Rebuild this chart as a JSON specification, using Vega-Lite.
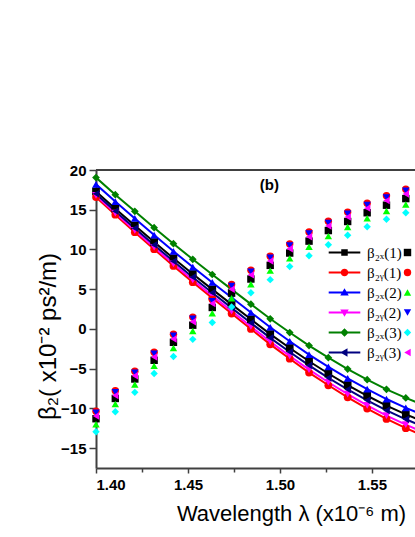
{
  "$schema": "https://vega.github.io/schema/vega-lite/v6.json",
  "width": 319,
  "height": 298,
  "autosize": {"type": "none"},
  "padding": {"left": 96, "top": 170, "right": 0, "bottom": 69},
  "config": {
    "view": {"stroke": null},
    "font": "Liberation Sans",
    "axis": {
      "grid": false,
      "domainColor": "#404040",
      "domainWidth": 2,
      "tickColor": "#404040",
      "tickWidth": 1.5,
      "labelFont": "Liberation Sans",
      "labelFontWeight": "bold",
      "labelFontSize": 15,
      "labelColor": "#000000",
      "labelOverlap": false,
      "titleFont": "Liberation Sans",
      "titleFontWeight": "normal",
      "titleFontSize": 22,
      "titleColor": "#000000"
    }
  },
  "datasets": {
    "curves": [
      {"lam": 1.4, "x3": 19.05, "x2": 18.2, "x1": 17.3, "y3": 17.0, "y2": 16.8, "y1": 16.6},
      {"lam": 1.4105, "x3": 16.9, "x2": 16.03, "x1": 15.13, "y3": 14.81, "y2": 14.58, "y1": 14.37},
      {"lam": 1.4211, "x3": 14.8, "x2": 13.9, "x1": 13.01, "y3": 12.67, "y2": 12.41, "y1": 12.18},
      {"lam": 1.4316, "x3": 12.74, "x2": 11.81, "x1": 10.93, "y3": 10.57, "y2": 10.28, "y1": 10.04},
      {"lam": 1.4421, "x3": 10.72, "x2": 9.77, "x1": 8.89, "y3": 8.51, "y2": 8.19, "y1": 7.93},
      {"lam": 1.4526, "x3": 8.76, "x2": 7.79, "x1": 6.91, "y3": 6.51, "y2": 6.16, "y1": 5.89},
      {"lam": 1.4632, "x3": 6.85, "x2": 5.85, "x1": 4.98, "y3": 4.56, "y2": 4.18, "y1": 3.89},
      {"lam": 1.4737, "x3": 4.98, "x2": 3.96, "x1": 3.09, "y3": 2.65, "y2": 2.24, "y1": 1.94},
      {"lam": 1.4842, "x3": 3.12, "x2": 2.07, "x1": 1.21, "y3": 0.75, "y2": 0.31, "y1": 0.0},
      {"lam": 1.4947, "x3": 1.28, "x2": 0.21, "x1": -0.65, "y3": -1.13, "y2": -1.6, "y1": -1.94},
      {"lam": 1.5053, "x3": -0.45, "x2": -1.55, "x1": -2.4, "y3": -2.9, "y2": -3.4, "y1": -3.75},
      {"lam": 1.5158, "x3": -2.1, "x2": -3.23, "x1": -4.07, "y3": -4.59, "y2": -5.12, "y1": -5.49},
      {"lam": 1.5263, "x3": -3.62, "x2": -4.77, "x1": -5.61, "y3": -6.15, "y2": -6.71, "y1": -7.09},
      {"lam": 1.5368, "x3": -5.05, "x2": -6.23, "x1": -7.06, "y3": -7.62, "y2": -8.21, "y1": -8.61},
      {"lam": 1.5474, "x3": -6.38, "x2": -7.58, "x1": -8.41, "y3": -8.99, "y2": -9.61, "y1": -10.02},
      {"lam": 1.5579, "x3": -7.6, "x2": -8.82, "x1": -9.65, "y3": -10.25, "y2": -10.9, "y1": -11.33},
      {"lam": 1.5684, "x3": -8.68, "x2": -9.93, "x1": -10.75, "y3": -11.37, "y2": -12.05, "y1": -12.49},
      {"lam": 1.5789, "x3": -9.65, "x2": -10.93, "x1": -11.74, "y3": -12.38, "y2": -13.09, "y1": -13.55}
    ],
    "points": [
      {"lam": 1.4, "x1": -11.3, "y1": -10.35, "x2": -12.0, "y2": -10.55, "x3": -12.93, "y3": -10.95},
      {"lam": 1.4105, "x1": -8.75, "y1": -7.77, "x2": -9.45, "y2": -7.97, "x3": -10.43, "y3": -8.37},
      {"lam": 1.4211, "x1": -6.3, "y1": -5.31, "x2": -7.0, "y2": -5.5, "x3": -7.98, "y3": -5.9},
      {"lam": 1.4316, "x1": -3.95, "y1": -2.94, "x2": -4.65, "y2": -3.13, "x3": -5.61, "y3": -3.53},
      {"lam": 1.4421, "x1": -1.68, "y1": -0.66, "x2": -2.4, "y2": -0.85, "x3": -3.46, "y3": -1.26},
      {"lam": 1.4526, "x1": 0.47, "y1": 1.49, "x2": -0.25, "y2": 1.3, "x3": -1.31, "y3": 0.9},
      {"lam": 1.4632, "x1": 2.7, "y1": 3.7, "x2": 1.97, "y2": 3.5, "x3": 0.8, "y3": 3.2},
      {"lam": 1.4737, "x1": 4.5, "y1": 5.6, "x2": 3.86, "y2": 5.4, "x3": 2.75, "y3": 5.0},
      {"lam": 1.4842, "x1": 6.28, "y1": 7.4, "x2": 5.62, "y2": 7.2, "x3": 4.55, "y3": 6.8},
      {"lam": 1.4947, "x1": 8.0, "y1": 9.15, "x2": 7.34, "y2": 8.95, "x3": 6.2, "y3": 8.55},
      {"lam": 1.5053, "x1": 9.55, "y1": 10.7, "x2": 8.88, "y2": 10.5, "x3": 7.85, "y3": 10.1},
      {"lam": 1.5158, "x1": 11.05, "y1": 12.2, "x2": 10.35, "y2": 12.0, "x3": 9.2, "y3": 11.6},
      {"lam": 1.5263, "x1": 12.38, "y1": 13.55, "x2": 11.68, "y2": 13.35, "x3": 10.6, "y3": 12.95},
      {"lam": 1.5368, "x1": 13.52, "y1": 14.7, "x2": 12.82, "y2": 14.5, "x3": 11.78, "y3": 14.1},
      {"lam": 1.5474, "x1": 14.62, "y1": 15.82, "x2": 13.92, "y2": 15.6, "x3": 12.85, "y3": 15.2},
      {"lam": 1.5579, "x1": 15.57, "y1": 16.77, "x2": 14.85, "y2": 16.55, "x3": 13.8, "y3": 16.15},
      {"lam": 1.5684, "x1": 16.4, "y1": 17.59, "x2": 15.65, "y2": 17.38, "x3": 14.62, "y3": 16.97}
    ]
  },
  "layer": [
    {
      "data": {"name": "curves"},
      "transform": [{"fold": ["x1", "y1", "x2", "y2", "x3", "y3"], "as": ["series", "beta"]}],
      "mark": {"type": "line", "strokeWidth": 2, "clip": true},
      "encoding": {
        "x": {
          "field": "lam", "type": "quantitative",
          "scale": {"domain": [1.4, 1.5734], "nice": false, "zero": false},
          "axis": {
            "values": [1.4, 1.425, 1.45, 1.475, 1.5, 1.525, 1.55],
            "labelExpr": "round(datum.value*40) % 2 == 0 ? format(datum.value, '.2f') : ''",
            "tickSize": {"expr": "(round(datum.value*40) % 2 == 0 ? 5 : 4)"},
            "labelPadding": 4,
            "title": "Wavelength λ (x10⁻⁶ m)",
            "titleX": 195,
            "titleY": 52,
            "titleBaseline": "alphabetic",
            "titleAlign": "center"
          }
        },
        "y": {
          "field": "beta", "type": "quantitative",
          "scale": {"domain": [-17.5, 20], "nice": false, "zero": false},
          "axis": {
            "values": [-15, -10, -5, 0, 5, 10, 15, 20],
            "format": "d",
            "tickSize": 7,
            "labelPadding": 3,
            "title": "β₂( x10⁻² ps²/m)",
            "titleFontSize": 24,
            "titleX": -41,
            "titleY": 166,
            "titleAngle": -90,
            "titleBaseline": "alphabetic",
            "titleAlign": "center"
          }
        },
        "color": {
          "field": "series", "type": "nominal",
          "scale": {"domain": ["x1", "y1", "x2", "y2", "x3", "y3"], "range": ["#000000", "#FF0000", "#0000FF", "#FF00FF", "#008000", "#000080"]},
          "legend": null
        },
        "detail": {"field": "series"}
      }
    },
    {
      "data": {"name": "curves"},
      "transform": [{"fold": ["x1", "y1", "x2", "y2", "x3", "y3"], "as": ["series", "beta"]}],
      "mark": {"type": "point", "filled": true, "opacity": 1, "size": 60, "strokeWidth": 0},
      "encoding": {
        "x": {"field": "lam", "type": "quantitative"},
        "y": {"field": "beta", "type": "quantitative"},
        "color": {
          "field": "series", "type": "nominal",
          "scale": {"domain": ["x1", "y1", "x2", "y2", "x3", "y3"], "range": ["#000000", "#FF0000", "#0000FF", "#FF00FF", "#008000", "#000080"]},
          "legend": null
        },
        "shape": {
          "field": "series", "type": "nominal",
          "scale": {"domain": ["x1", "y1", "x2", "y2", "x3", "y3"], "range": ["square", "circle", "triangle-up", "triangle-down", "diamond", "triangle-left"]},
          "legend": null
        }
      }
    },
    {
      "data": {"values": []},
      "mark": {"type": "point", "filled": true, "opacity": 1},
      "encoding": {
        "color": {
          "field": "series", "type": "nominal",
          "scale": {"domain": ["x1", "y1", "x2", "y2", "x3", "y3"], "range": ["#000000", "#FF0000", "#0000FF", "#FF00FF", "#008000", "#000080"]},
          "legend": {
            "orient": "none", "legendX": 241, "legendY": 75, "title": null, "padding": 0,
            "symbolSize": 100, "symbolStrokeWidth": 0, "symbolOpacity": 1,
            "labelFont": "Liberation Serif", "labelFontSize": 15, "labelColor": "#000000", "labelOffset": 15,
            "rowPadding": 4,
            "labelExpr": "{'x1': 'β₂ₓ(1)', 'y1': 'β₂ᵧ(1)', 'x2': 'β₂ₓ(2)', 'y2': 'β₂ᵧ(2)', 'x3': 'β₂ₓ(3)', 'y3': 'β₂ᵧ(3)'}[datum.value]"
          }
        },
        "shape": {
          "field": "series", "type": "nominal",
          "scale": {
            "domain": ["x1", "y1", "x2", "y2", "x3", "y3"],
            "range": [
              "M-3.16,-0.2H3.16V0.2H-3.16Z M-0.65,-0.65H0.65V0.65H-0.65Z",
              "M-3.16,-0.2H3.16V0.2H-3.16Z M-0.75,0A0.75,0.75 0 1,1 0.75,0A0.75,0.75 0 1,1 -0.75,0Z",
              "M-3.16,-0.2H3.16V0.2H-3.16Z M0,-0.85L0.85,0.6H-0.85Z",
              "M-3.16,-0.2H3.16V0.2H-3.16Z M0,0.85L-0.85,-0.6H0.85Z",
              "M-3.16,-0.2H3.16V0.2H-3.16Z M0,-0.85L0.85,0L0,0.85L-0.85,0Z",
              "M-3.16,-0.2H3.16V0.2H-3.16Z M-0.85,0L0.6,-0.85V0.85Z"
            ]
          },
          "legend": {
            "orient": "none", "legendX": 241, "legendY": 75, "title": null, "padding": 0,
            "symbolSize": 100, "symbolStrokeWidth": 0, "symbolOpacity": 1,
            "labelFont": "Liberation Serif", "labelFontSize": 15, "labelColor": "#000000", "labelOffset": 15,
            "rowPadding": 4,
            "labelExpr": "{'x1': 'β₂ₓ(1)', 'y1': 'β₂ᵧ(1)', 'x2': 'β₂ₓ(2)', 'y2': 'β₂ᵧ(2)', 'x3': 'β₂ₓ(3)', 'y3': 'β₂ᵧ(3)'}[datum.value]"
          }
        }
      }
    },
    {
      "data": {"name": "points"},
      "transform": [{"fold": ["x1", "y1", "x2", "y2", "x3", "y3"], "as": ["series", "beta"]}],
      "mark": {"type": "point", "filled": true, "opacity": 1, "size": 55, "strokeWidth": 0},
      "encoding": {
        "x": {"field": "lam", "type": "quantitative"},
        "y": {"field": "beta", "type": "quantitative"},
        "color": {
          "field": "series", "type": "nominal",
          "scale": {"domain": ["x1", "y1", "x2", "y2", "x3", "y3"], "range": ["#000000", "#FF0000", "#00FF00", "#0000FF", "#00FFFF", "#FF00FF"]},
          "legend": {
            "orient": "none", "legendX": 304, "legendY": 75, "title": null, "padding": 0,
            "symbolSize": 55, "symbolStrokeWidth": 0, "symbolOpacity": 1,
            "labelFontSize": 15, "rowPadding": 4, "labelExpr": "' '"
          }
        },
        "shape": {
          "field": "series", "type": "nominal",
          "scale": {"domain": ["x1", "y1", "x2", "y2", "x3", "y3"], "range": ["square", "circle", "triangle-up", "triangle-down", "diamond", "triangle-left"]},
          "legend": {
            "orient": "none", "legendX": 304, "legendY": 75, "title": null, "padding": 0,
            "symbolSize": 55, "symbolStrokeWidth": 0, "symbolOpacity": 1,
            "labelFontSize": 15, "rowPadding": 4, "labelExpr": "' '"
          }
        }
      }
    },
    {
      "data": {"values": [{"t": "(b)"}]},
      "mark": {"type": "text", "font": "Liberation Sans", "fontWeight": "bold", "fontSize": 15, "align": "center", "baseline": "middle", "color": "#000000"},
      "encoding": {
        "x": {"datum": 1.4942, "type": "quantitative"},
        "y": {"datum": 18.1, "type": "quantitative"},
        "text": {"field": "t"}
      }
    },
    {
      "data": {"values": [{"top": 20}]},
      "mark": {"type": "rule", "color": "#404040", "strokeWidth": 2},
      "encoding": {
        "y": {"field": "top", "type": "quantitative"}
      }
    }
  ],
  "resolve": {"scale": {"color": "independent", "shape": "independent"}}
}
